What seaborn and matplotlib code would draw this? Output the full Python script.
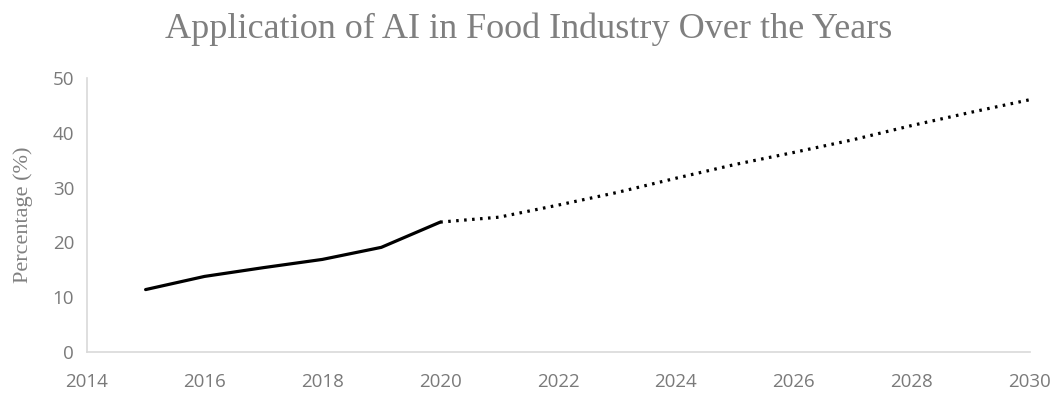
import numpy as np
import pandas as pd
import matplotlib
matplotlib.use('Agg')
import matplotlib.pyplot as plt
import seaborn as sns

# Observed values (solid line)
years_actual = [2015, 2016, 2017, 2018, 2019, 2020]
pct_actual = [11.4, 13.8, 15.4, 16.9, 19.1, 23.7]

# Projected values (dotted line)
years_forecast = [2020, 2021, 2022, 2023, 2024, 2025, 2026, 2027, 2028, 2029, 2030]
pct_forecast = [23.7, 24.6, 26.8, 29.1, 31.7, 34.2, 36.4, 38.7, 41.3, 43.7, 46.0]

x_ticks = [2014, 2016, 2018, 2020, 2022, 2024, 2026, 2028, 2030]
y_ticks = [0, 10, 20, 30, 40, 50]

sns.set_style('white')
plt.rcParams['font.family'] = ['Open Sans', 'DejaVu Sans']

df_actual = pd.DataFrame({'year': years_actual, 'pct': pct_actual})
df_forecast = pd.DataFrame({'year': years_forecast, 'pct': pct_forecast})

fig = plt.figure(figsize=(10.57, 3.93), dpi=100)
ax = fig.add_axes([0.082, 0.104, 0.892, 0.698])

sns.lineplot(data=df_actual, x='year', y='pct', ax=ax, color='black', linewidth=2.3)
sns.lineplot(data=df_forecast, x='year', y='pct', ax=ax, color='black', linewidth=2.3,
             linestyle=(0, (0.8, 1.7)))

ax.set_xlim(2014, 2030)
ax.set_ylim(0, 50)
ax.set_xticks(x_ticks)
ax.set_yticks(y_ticks)
ax.tick_params(axis='both', length=0, labelsize=13.5, labelcolor='#7a7a7a')
ax.tick_params(axis='x', pad=15)
ax.tick_params(axis='y', pad=9)

for side in ['top', 'right']:
    ax.spines[side].set_visible(False)
for side in ['left', 'bottom']:
    ax.spines[side].set_color('#d9d9d9')
    ax.spines[side].set_linewidth(1.2)

ax.set_xlabel('')
ax.set_ylabel('Percentage (%)', family='Liberation Serif', fontsize=16, color='#808080', labelpad=14)

fig.text(0.5, 0.925, 'Application of AI in Food Industry Over the Years', ha='center', va='center',
         family='Liberation Serif', fontsize=26, color='#7f7f7f')

fig.savefig('out.png', dpi=100)
plt.close(fig)
